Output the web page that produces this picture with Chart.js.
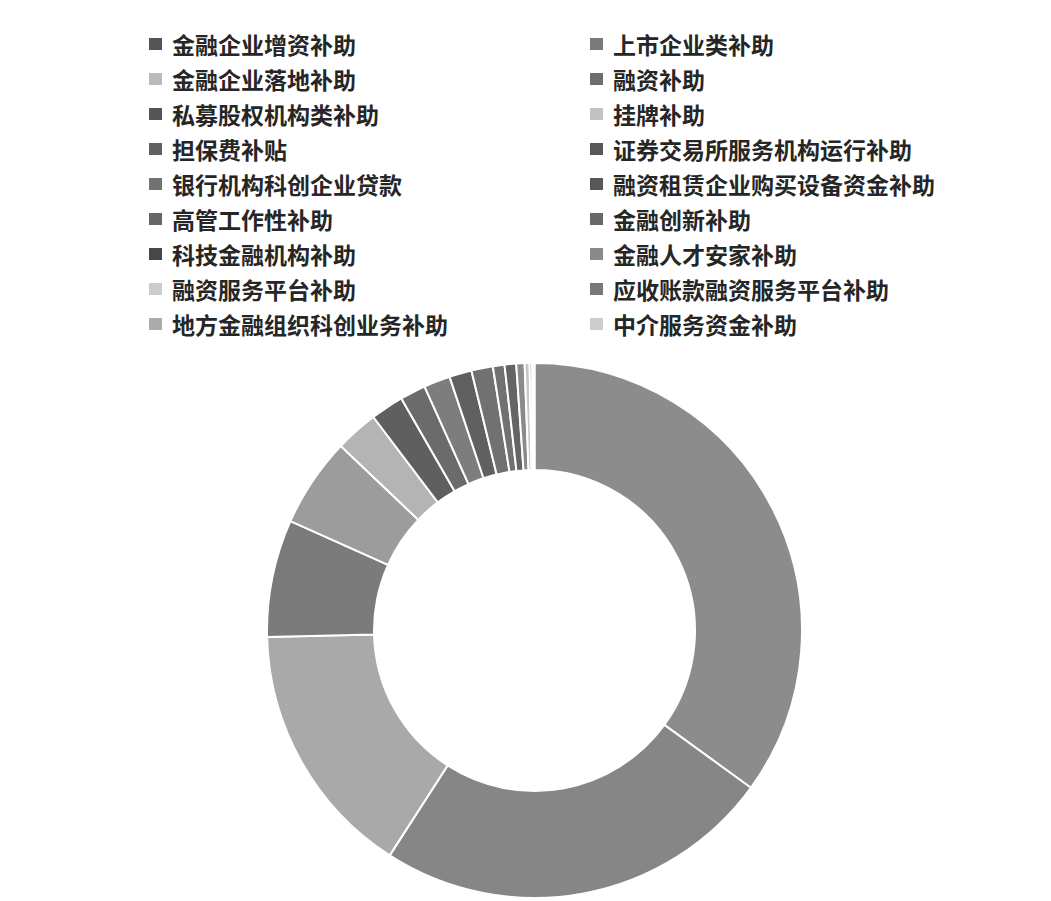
<!DOCTYPE html>
<html lang="zh-CN">
<head>
  <meta charset="UTF-8">
  <title>补助资金构成</title>
  <script src="https://cdn.jsdelivr.net/npm/chart.js"></script>
  <style>
    body { margin: 0; background: #fff; font-family: "Noto Sans CJK SC", sans-serif; }
    #page { position: relative; width: 1051px; height: 901px; overflow: hidden; }
    #legend { position: absolute; left: 149px; top: 26px; display: grid; grid-template-columns: 441px 400px; grid-auto-rows: 35px; }
    .item { display: flex; align-items: center; font-size: 23px; font-weight: bold; color: #262626; white-space: nowrap; }
    .box { width: 13px; height: 12px; margin-right: 10px; flex: none; }
    #wrap { position: absolute; left: 266px; top: 362px; width: 537px; height: 537px; }
  </style>
</head>
<body>
<div id="page">
  <div id="legend"></div>
  <div id="wrap"><canvas id="pie"></canvas></div>
</div>
<script>
// categories, in legend order (read row by row)
const categories = [
  '金融企业增资补助', '上市企业类补助',
  '金融企业落地补助', '融资补助',
  '私募股权机构类补助', '挂牌补助',
  '担保费补贴', '证券交易所服务机构运行补助',
  '银行机构科创企业贷款', '融资租赁企业购买设备资金补助',
  '高管工作性补助', '金融创新补助',
  '科技金融机构补助', '金融人才安家补助',
  '融资服务平台补助', '应收账款融资服务平台补助',
  '地方金融组织科创业务补助', '中介服务资金补助'
];
// share of each item, % (estimated from the ring)
const shares = [35.0, 24.1, 15.5, 7.1, 5.4, 2.6, 2.0, 1.55, 1.6, 1.35, 1.3, 0.7, 0.7, 0.5, 0.3, 0.15, 0.08, 0.06];

const sliceColors = ['#8c8c8c', '#868686', '#a9a9a9', '#7b7b7b', '#9c9c9c', '#b4b4b4', '#5f5f5f', '#6b6b6b', '#7d7d7d',
  '#606060', '#717171', '#717171', '#646464', '#8a8a8a', '#c8c8c8', '#8a8a8a', '#b0b0b0', '#c8c8c8'];
const legendColors = ['#555', '#7a7a7a', '#bbb', '#6e6e6e', '#555', '#c2c2c2', '#606060', '#585858', '#727272',
  '#575757', '#666', '#686868', '#474747', '#8a8a8a', '#ccc', '#787878', '#ababab', '#cdcdcd'];

// legend in two columns
const legend = document.getElementById('legend');
categories.forEach((name, i) => {
  legend.innerHTML += `<div class="item"><span class="box" style="background:${legendColors[i]}"></span>${name}</div>`;
});

new Chart(document.getElementById('pie'), {
  type: 'doughnut',
  data: {
    labels: categories,
    datasets: [{ data: shares, backgroundColor: sliceColors, borderColor: '#fff', borderWidth: 2, hoverOffset: 0 }]
  },
  options: {
    responsive: true,
    maintainAspectRatio: false,
    animation: false,
    cutout: '60%',
    layout: { padding: 0 },
    plugins: { legend: { display: false }, tooltip: { enabled: false } }
  }
});
</script>
</body>
</html>
